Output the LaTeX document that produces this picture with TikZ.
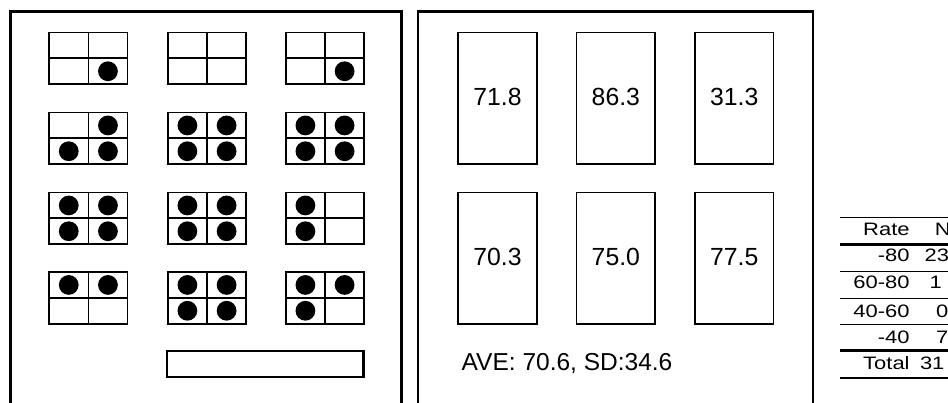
\documentclass[tikz,border=0pt]{standalone}
\usepackage{fontspec}
\setmainfont{Liberation Sans}
\usepackage{graphicx}
\newcommand\tabstretch[1]{\scalebox{1.22}[1]{#1}}
\begin{document}
\begin{tikzpicture}[x=1pt,y=-1pt,
  frame/.style={line width=2.4pt, line join=miter},
  desk/.style={draw, rectangle, line width=1.7pt, minimum width=78.3pt, minimum height=51.7pt, inner sep=0pt},
  divider/.style={line width=1.7pt},
  seatdot/.style={circle, fill=black, minimum size=19.8pt, inner sep=0pt},
  board/.style={draw, rectangle, line width=2.4pt, minimum width=196.3pt, minimum height=25.6pt, inner sep=0pt},
  scorebox/.style={draw, rectangle, line width=1.7pt, minimum width=78.5pt, minimum height=131.7pt, inner sep=0pt, font=\fontsize{24.8}{28}\selectfont, text height=17.6pt, text depth=2.3pt},
  bigtext/.style={inner sep=0pt, font=\fontsize{24.5}{28}\selectfont},
  tabtxt/.style={inner sep=0pt, font=\fontsize{18}{20}\selectfont},
  thinrule/.style={line width=1.4pt},
  thickrule/.style={line width=2.4pt}
]
\useasboundingbox (0,0) rectangle (948,403);
\clip (0,0) rectangle (948,403);
\fill[white] (0,0) rectangle (948,403);

% panel frames
\draw[frame] (10.3,404) -- (10.3,11.5) -- (401.5,11.5) -- (401.5,404);
\draw[frame] (417.8,404) -- (417.8,11.5) -- (812.8,11.5) -- (812.8,404);

% desks with seats
\foreach \i/\x/\y/\pa/\pb/\pc/\pd in {
 1/88.35/58.35/0/0/0/1, 2/207/58.35/0/0/0/0, 3/325/58.35/0/0/0/1,
 4/88.35/138.35/0/1/1/1, 5/207/138.35/1/1/1/1, 6/325/138.35/1/1/1/1,
 7/88.35/218.35/1/1/1/1, 8/207/218.35/1/1/1/1, 9/325/218.35/1/0/1/0,
 10/88.35/297.85/1/1/0/0, 11/207/297.85/1/1/1/1, 12/325/297.85/1/1/1/0}
{
 \node[desk] (desk\i) at (\x,\y) {};
 \draw[divider] (desk\i.north) -- (desk\i.south) (desk\i.west) -- (desk\i.east);
 \ifnum\pa=1 \node[seatdot] (dot\i a) at ([shift={(-19.6,-12.9)}]desk\i.center) {};\fi
 \ifnum\pb=1 \node[seatdot] (dot\i b) at ([shift={(19.6,-12.9)}]desk\i.center) {};\fi
 \ifnum\pc=1 \node[seatdot] (dot\i c) at ([shift={(-19.6,12.9)}]desk\i.center) {};\fi
 \ifnum\pd=1 \node[seatdot] (dot\i d) at ([shift={(19.6,12.9)}]desk\i.center) {};\fi
}

% teacher's desk
\node[board] (teacher) at (265.35,364) {};

% score boxes
\node[scorebox] (s1) at (497.5,98.35) {71.8};
\node[scorebox] (s2) at (615.85,98.35) {86.3};
\node[scorebox] (s3) at (734.2,98.35) {31.3};
\node[scorebox] (s4) at (497.5,258.35) {70.3};
\node[scorebox] (s5) at (615.85,258.35) {75.0};
\node[scorebox] (s6) at (734.2,258.35) {77.5};

\node[bigtext, anchor=base west] (ave) at (461.5,370.6) {AVE: 70.6, SD:34.6};

% table rules
\draw[thinrule] (840,217.7) -- (950,217.7);
\draw[thickrule] (840,244.7) -- (950,244.7);
\draw[thinrule] (840,271.7) -- (950,271.7);
\draw[thinrule] (840,298.3) -- (950,298.3);
\draw[thinrule] (840,324.3) -- (950,324.3);
\draw[thickrule] (840,350.7) -- (950,350.7);
\draw[thinrule] (840,378) -- (950,378);

% table text
\node[tabtxt, anchor=base east] (r0) at (909.8,236) {\tabstretch{Rate}};
\node[tabtxt, anchor=base east] (r1) at (909.8,261.7) {\tabstretch{-80}};
\node[tabtxt, anchor=base east] (r2) at (909.8,289) {\tabstretch{60-80}};
\node[tabtxt, anchor=base east] (r3) at (909.8,317.3) {\tabstretch{40-60}};
\node[tabtxt, anchor=base east] (r4) at (909.8,343.3) {\tabstretch{-40}};
\node[tabtxt, anchor=base east] (r5) at (909.8,369.3) {\tabstretch{Total}};
\node[tabtxt, anchor=base west] (n0) at (934.6,236) {\tabstretch{N}};
\node[tabtxt, anchor=base west] (n1) at (924.5,261.7) {\tabstretch{23}};
\node[tabtxt, anchor=base west] (n2) at (929.3,289) {\tabstretch{1}};
\node[tabtxt, anchor=base west] (n3) at (935.8,317.3) {\tabstretch{0}};
\node[tabtxt, anchor=base west] (n4) at (935.9,343.3) {\tabstretch{7}};
\node[tabtxt, anchor=base west] (n5) at (919.8,369.3) {\tabstretch{31}};
\end{tikzpicture}
\end{document}
